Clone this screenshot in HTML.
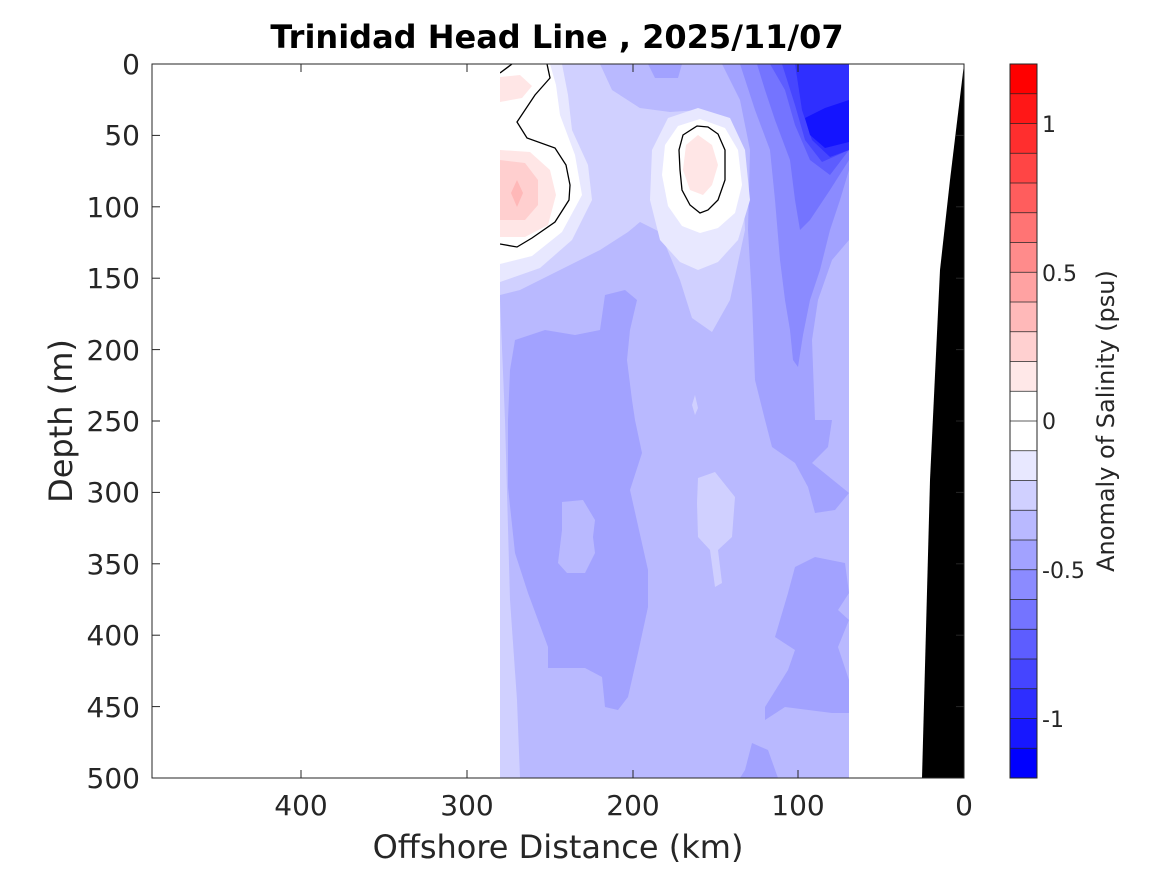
<!DOCTYPE html>
<html><head><meta charset="utf-8"><style>body{margin:0;background:#fff}svg{display:block}</style></head><body>
<svg width="1167" height="875" viewBox="0 0 1167 875" xmlns="http://www.w3.org/2000/svg" font-family="DejaVu Sans, Liberation Sans, sans-serif">
<rect width="1167" height="875" fill="#fff"/>
<defs><clipPath id="c"><rect x="500" y="64" width="349" height="714"/></clipPath></defs>
<g clip-path="url(#c)">
<rect x="500" y="64" width="349" height="714" fill="#b9b9ff"/>
<polygon fill="#d0d0ff" points="500,64 600,64 612,90 640,108 680,104 722,118 742,165 745,230 730,300 712,332 692,318 680,280 660,232 640,222 628,232 600,250 560,270 520,290 500,295"/>
<polygon fill="#b9b9ff" points="600,64 722,64 730,100 700,110 670,112 640,108 620,95"/>
<polygon fill="#a2a2ff" points="648,64 682,64 678,78 655,78"/>
<polygon fill="#a2a2ff" points="515,340 545,330 575,335 600,330 605,295 625,290 637,300 630,330 627,360 632,400 635,420 642,453 630,490 648,570 648,607 638,653 628,697 618,710 605,707 602,677 585,668 548,668 548,647 528,593 515,553 508,487 508,420 510,370"/>
<polygon fill="#b9b9ff" points="562,502 583,500 595,520 593,537 595,553 585,573 567,573 558,563 562,530"/>
<polygon fill="#d0d0ff" points="698,478 715,472 735,497 732,537 718,550 722,583 715,587 710,550 698,537 697,503"/>
<polygon fill="#d0d0ff" points="500,300 505,420 510,600 517,700 520,778 500,778"/>
<polygon fill="#d0d0ff" points="695,395 698,408 695,415 692,405"/>
<polygon fill="#a2a2ff" points="722,64 849,64 849,240 832,260 818,300 812,340 815,420 832,420 828,447 812,463 849,493 835,510 815,513 808,487 795,463 772,447 765,420 755,380 752,300 748,230 750,150 740,100"/>
<polygon fill="#a2a2ff" points="795,567 815,557 845,563 849,593 838,610 849,620 838,647 849,680 849,713 832,713 785,707 765,720 765,707 788,670 795,650 775,637 788,593"/>
<polygon fill="#a2a2ff" points="740,778 745,770 752,743 768,750 778,778"/>
<polygon fill="#8b8bff" points="740,64 849,64 849,170 840,200 830,230 820,270 810,300 803,335 798,367 793,360 790,330 785,300 780,260 775,200 770,150 755,110"/>
<polygon fill="#7474ff" points="757,64 849,64 849,160 830,190 810,220 800,230 795,200 790,160 775,120 765,90"/>
<polygon fill="#5d5dff" points="770,64 849,64 849,150 830,175 810,160 795,125 785,90"/>
<polygon fill="#4646ff" points="782,64 849,64 849,150 822,162 805,140 795,105"/>
<polygon fill="#2f2fff" points="795,64 849,64 849,150 830,157 812,140 802,110"/>
<polygon fill="#1414ff" points="805,118 825,108 849,100 849,142 825,148 810,135"/>
<polygon fill="#e8e8ff" points="500,64 562,64 568,95 572,130 588,165 592,200 572,240 540,268 500,282"/>
<polygon fill="#fff" points="500,64 550,64 556,85 560,115 575,155 582,195 562,232 532,256 500,264"/>
<polygon fill="#ffe6e6" points="500,77 520,75 532,86 522,98 500,102"/>
<polygon fill="#ffe6e6" points="500,150 530,152 550,170 556,195 548,225 525,237 500,237"/>
<polygon fill="#ffcfcf" points="500,160 525,163 538,180 538,205 525,220 500,220"/>
<polygon fill="#ffb8b8" points="517,180 523,193 517,207 511,193"/>
<polyline fill="none" stroke="#000" stroke-width="1.3" points="500,73 512,64"/>
<polyline fill="none" stroke="#000" stroke-width="1.3" points="547,64 550,78 535,95 517,122 527,138 555,148 566,165 570,185 569,200 555,222 532,238 517,247 500,244"/>
<polygon fill="#e8e8ff" points="698,108 730,118 745,150 750,200 738,240 718,262 698,270 680,262 660,240 650,200 652,150 668,118"/>
<polygon fill="#fff" points="700,119 725,128 738,150 742,185 735,213 718,228 700,233 682,226 668,206 662,175 665,145 678,126"/>
<polygon fill="#ffe6e6" points="698,135 712,145 718,165 712,185 703,195 690,190 683,170 686,145"/>
<polygon fill="none" stroke="#000" stroke-width="1.3" points="697,126 708,127 718,134 725,150 725,180 718,200 708,210 700,213 690,205 682,190 680,170 679,150 683,135"/>
</g>
<polygon fill="#000" points="964,64 950,180 940,270 930,480 922,778 964,778"/>
<rect x="152" y="64" width="812" height="714" fill="none" stroke="#262626" stroke-width="1"/>
<g stroke="#262626" stroke-width="1">
<line x1="152" y1="135.4" x2="160" y2="135.4"/><line x1="152" y1="206.8" x2="160" y2="206.8"/><line x1="152" y1="278.2" x2="160" y2="278.2"/><line x1="152" y1="349.6" x2="160" y2="349.6"/><line x1="152" y1="421" x2="160" y2="421"/><line x1="152" y1="492.4" x2="160" y2="492.4"/><line x1="152" y1="563.8" x2="160" y2="563.8"/><line x1="152" y1="635.2" x2="160" y2="635.2"/><line x1="152" y1="706.6" x2="160" y2="706.6"/>
<line x1="964" y1="135.4" x2="956" y2="135.4"/><line x1="964" y1="206.8" x2="956" y2="206.8"/><line x1="964" y1="278.2" x2="956" y2="278.2"/><line x1="964" y1="349.6" x2="956" y2="349.6"/><line x1="964" y1="421" x2="956" y2="421"/><line x1="964" y1="492.4" x2="956" y2="492.4"/><line x1="964" y1="563.8" x2="956" y2="563.8"/><line x1="964" y1="635.2" x2="956" y2="635.2"/><line x1="964" y1="706.6" x2="956" y2="706.6"/>
<line x1="798" y1="778" x2="798" y2="770"/><line x1="633" y1="778" x2="633" y2="770"/><line x1="467" y1="778" x2="467" y2="770"/><line x1="301" y1="778" x2="301" y2="770"/>
<line x1="798" y1="64" x2="798" y2="72"/><line x1="633" y1="64" x2="633" y2="72"/><line x1="467" y1="64" x2="467" y2="72"/><line x1="301" y1="64" x2="301" y2="72"/>
</g>
<g font-size="28" fill="#262626" text-anchor="end">
<text x="140" y="74">0</text><text x="140" y="145">50</text><text x="140" y="217">100</text><text x="140" y="288">150</text><text x="140" y="360">200</text><text x="140" y="431">250</text><text x="140" y="502">300</text><text x="140" y="574">350</text><text x="140" y="645">400</text><text x="140" y="717">450</text><text x="140" y="788">500</text>
</g>
<g font-size="28" fill="#262626" text-anchor="middle">
<text x="964" y="815">0</text><text x="798" y="815">100</text><text x="633" y="815">200</text><text x="467" y="815">300</text><text x="301" y="815">400</text>
<text x="558" y="858" font-size="32">Offshore Distance (km)</text>
<text x="557" y="48" font-size="32" font-weight="bold" fill="#000">Trinidad Head Line , 2025/11/07</text>
<text transform="translate(72,421) rotate(-90)" font-size="32">Depth (m)</text>
<text transform="translate(1114,421) rotate(-90)" font-size="24">Anomaly of Salinity (psu)</text>
</g>
<g>
<rect x="1010" y="64" width="27" height="29.75" fill="#ff0000"/>
<rect x="1010" y="93.75" width="27" height="29.75" fill="#ff1717"/>
<rect x="1010" y="123.5" width="27" height="29.75" fill="#ff2e2e"/>
<rect x="1010" y="153.25" width="27" height="29.75" fill="#ff4545"/>
<rect x="1010" y="183" width="27" height="29.75" fill="#ff5d5d"/>
<rect x="1010" y="212.75" width="27" height="29.75" fill="#ff7474"/>
<rect x="1010" y="242.5" width="27" height="29.75" fill="#ff8b8b"/>
<rect x="1010" y="272.25" width="27" height="29.75" fill="#ffa2a2"/>
<rect x="1010" y="302" width="27" height="29.75" fill="#ffb9b9"/>
<rect x="1010" y="331.75" width="27" height="29.75" fill="#ffd0d0"/>
<rect x="1010" y="361.5" width="27" height="29.75" fill="#ffe8e8"/>
<rect x="1010" y="391.25" width="27" height="59.5" fill="#ffffff"/>
<rect x="1010" y="450.75" width="27" height="29.75" fill="#e8e8ff"/>
<rect x="1010" y="480.5" width="27" height="29.75" fill="#d0d0ff"/>
<rect x="1010" y="510.25" width="27" height="29.75" fill="#b9b9ff"/>
<rect x="1010" y="540" width="27" height="29.75" fill="#a2a2ff"/>
<rect x="1010" y="569.75" width="27" height="29.75" fill="#8b8bff"/>
<rect x="1010" y="599.5" width="27" height="29.75" fill="#7474ff"/>
<rect x="1010" y="629.25" width="27" height="29.75" fill="#5d5dff"/>
<rect x="1010" y="659" width="27" height="29.75" fill="#4545ff"/>
<rect x="1010" y="688.75" width="27" height="29.75" fill="#2e2eff"/>
<rect x="1010" y="718.5" width="27" height="29.75" fill="#1717ff"/>
<rect x="1010" y="748.25" width="27" height="29.75" fill="#0000ff"/>
<rect x="1010" y="64" width="27" height="714" fill="none" stroke="#262626" stroke-width="1"/>
<g stroke="#262626" stroke-width="0.8">
<line x1="1010" y1="93.75" x2="1037" y2="93.75"/><line x1="1010" y1="123.5" x2="1037" y2="123.5"/><line x1="1010" y1="153.25" x2="1037" y2="153.25"/><line x1="1010" y1="183" x2="1037" y2="183"/><line x1="1010" y1="212.75" x2="1037" y2="212.75"/><line x1="1010" y1="242.5" x2="1037" y2="242.5"/><line x1="1010" y1="272.25" x2="1037" y2="272.25"/><line x1="1010" y1="302" x2="1037" y2="302"/><line x1="1010" y1="331.75" x2="1037" y2="331.75"/><line x1="1010" y1="361.5" x2="1037" y2="361.5"/><line x1="1010" y1="391.25" x2="1037" y2="391.25"/><line x1="1010" y1="421" x2="1037" y2="421"/><line x1="1010" y1="450.75" x2="1037" y2="450.75"/><line x1="1010" y1="480.5" x2="1037" y2="480.5"/><line x1="1010" y1="510.25" x2="1037" y2="510.25"/><line x1="1010" y1="540" x2="1037" y2="540"/><line x1="1010" y1="569.75" x2="1037" y2="569.75"/><line x1="1010" y1="599.5" x2="1037" y2="599.5"/><line x1="1010" y1="629.25" x2="1037" y2="629.25"/><line x1="1010" y1="659" x2="1037" y2="659"/><line x1="1010" y1="688.75" x2="1037" y2="688.75"/><line x1="1010" y1="718.5" x2="1037" y2="718.5"/><line x1="1010" y1="748.25" x2="1037" y2="748.25"/>
</g>
<g font-size="22" fill="#262626">
<text x="1042" y="132">1</text><text x="1042" y="281">0.5</text><text x="1042" y="429">0</text><text x="1042" y="578">-0.5</text><text x="1042" y="727">-1</text>
</g>
</g>
</svg>
</body></html>
